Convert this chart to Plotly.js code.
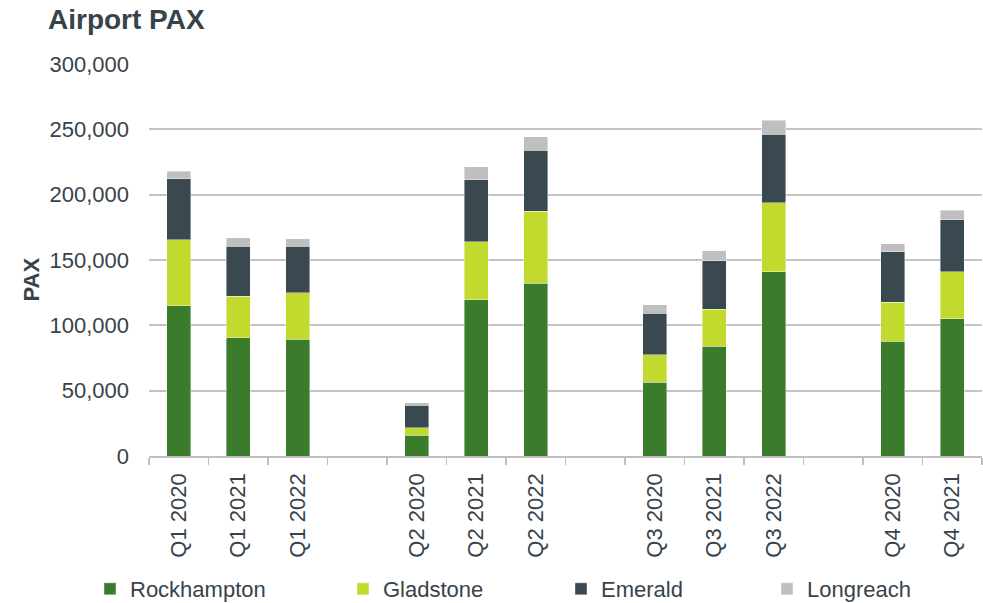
<!DOCTYPE html>
<html>
<head>
<meta charset="utf-8">
<script src="https://cdn.plot.ly/plotly-3.0.1.min.js"></script>
<style>
  html, body { margin: 0; padding: 0; background: #ffffff; }
  #chart { width: 983px; height: 603px; }
</style>
</head>
<body>
<div id="chart"></div>
<script>
// Category slots (blank strings are the gaps between quarter groups)
const categories = ["Q1 2020", "Q1 2021", "Q1 2022", " ",
                    "Q2 2020", "Q2 2021", "Q2 2022", "  ",
                    "Q3 2020", "Q3 2021", "Q3 2022", "   ",
                    "Q4 2020", "Q4 2021"];

// Passenger numbers (null = gap slot)
const rockhampton = [115100, 90400, 89300, null, 15800, 119700, 132200, null, 56400, 83900, 141100, null, 87800, 104900];
const gladstone   = [50500, 31800, 35500, null, 5900, 44200, 55100, null, 20900, 28400, 52600, null, 29800, 36200];
const emerald     = [46500, 38300, 35700, null, 17000, 47700, 46700, null, 31900, 37000, 52500, null, 38600, 39800];
const longreach   = [5800, 6400, 5700, null, 1900, 9700, 10500, null, 6400, 7900, 10800, null, 6400, 7200];

const seriesNames = ["Rockhampton", "Gladstone", "Emerald", "Longreach"];
const seriesColors = ["#3A7B2C", "#C2D92E", "#3A4850", "#BFBFBF"];
const seriesData = [rockhampton, gladstone, emerald, longreach];
const legendIds = ["legend", "legend2", "legend3", "legend4"];

const textColor = "#37434B";
const fontFamily = "'Liberation Sans', Arial, sans-serif";

const traces = seriesData.map((vals, i) => ({
  type: "bar",
  name: seriesNames[i],
  x: categories,
  y: vals,
  marker: { color: seriesColors[i], line: { color: "rgba(255,255,255,0.55)", width: 0.75 } },
  legend: legendIds[i],
  hoverinfo: "x+y+name"
}));

const legendX = [90, 343, 561, 767];
function legendCfg(px) {
  return {
    xref: "container", yref: "container",
    x: px / 983, y: 14 / 603,
    xanchor: "left", yanchor: "middle",
    orientation: "h",
    bgcolor: "rgba(0,0,0,0)",
    font: { family: fontFamily, size: 22, color: textColor },
    itemwidth: 30
  };
}

const layout = {
  width: 983, height: 603,
  margin: { l: 149, r: 1, t: 64, b: 147 },
  paper_bgcolor: "#ffffff",
  plot_bgcolor: "#ffffff",
  barmode: "stack",
  bargap: 0.6,
  font: { family: fontFamily, size: 22, color: textColor },
  title: {
    text: "<b>Airport PAX</b>",
    font: { family: fontFamily, size: 28, color: textColor },
    xref: "container", yref: "container",
    x: 48 / 983, xanchor: "left",
    y: 1 - 19 / 603, yanchor: "middle"
  },
  xaxis: {
    type: "category",
    categoryorder: "array",
    categoryarray: categories,
    range: [-0.5, categories.length - 0.5],
    tickangle: -90,
    tickson: "boundaries",
    ticks: "outside",
    ticklen: 7,
    tickwidth: 1.5,
    tickcolor: "#BFBFBF",
    showline: true,
    linecolor: "#BFBFBF",
    linewidth: 1.5,
    showgrid: false,
    ticklabelstandoff: 7,
    tickfont: { family: fontFamily, size: 22, color: textColor },
    fixedrange: true
  },
  yaxis: {
    range: [0, 300000],
    tickvals: [0, 50000, 100000, 150000, 200000, 250000, 300000],
    tickformat: ",d",
    showgrid: true,
    gridcolor: "#C4C4C4",
    gridwidth: 1.75,
    zeroline: false,
    showline: false,
    ticks: "",
    ticklabelstandoff: 19,
    tickfont: { family: fontFamily, size: 22, color: textColor },
    fixedrange: true
  },
  annotations: [{
    text: "<b>PAX</b>",
    xref: "paper", yref: "paper",
    x: (30.5 - 149) / 833, y: (456 - 280) / 392,
    xanchor: "center", yanchor: "middle",
    textangle: -90,
    showarrow: false,
    font: { family: fontFamily, size: 22, color: textColor }
  }],
  legend: legendCfg(legendX[0]),
  legend2: legendCfg(legendX[1]),
  legend3: legendCfg(legendX[2]),
  legend4: legendCfg(legendX[3]),
  showlegend: true
};

Plotly.newPlot("chart", traces, layout, { displayModeBar: false, staticPlot: true });
</script>
</body>
</html>
